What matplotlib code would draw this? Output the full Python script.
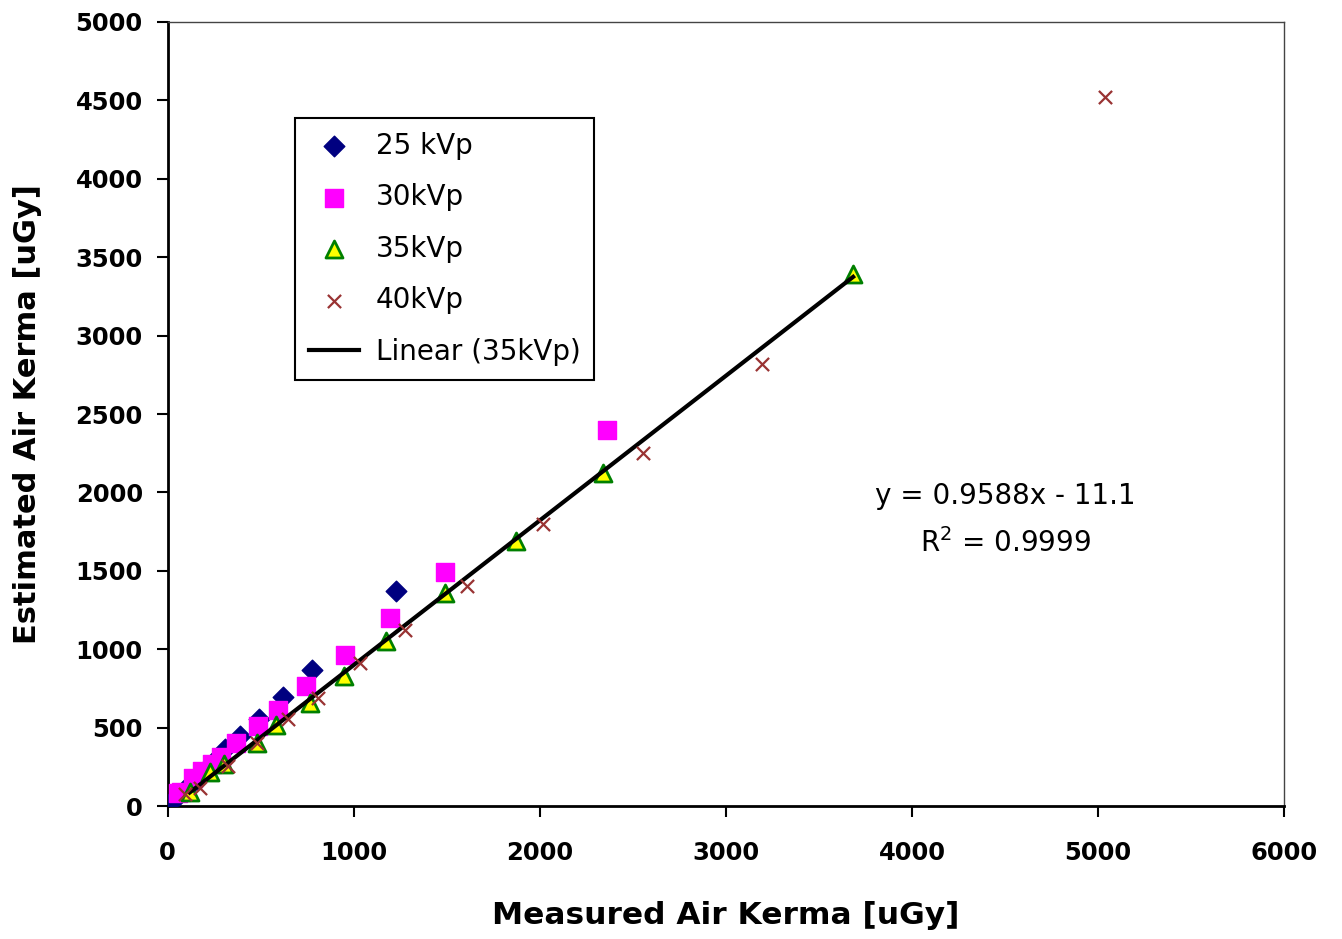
import numpy as np
import matplotlib
matplotlib.use('Agg')
import matplotlib.pyplot as plt

plt.rcParams['font.family'] = ['DejaVu Sans']

# 25 kVp
x25 = [25, 60, 95, 120, 155, 190, 244, 306, 390, 490, 622, 774, 1226]
y25 = [30, 70, 108, 135, 172, 218, 282, 362, 448, 552, 693, 868, 1373]
# 30 kVp
x30 = [55, 73, 136, 185, 236, 288, 369, 486, 592, 742, 952, 1194, 1489, 2360]
y30 = [80, 91, 180, 225, 270, 315, 400, 512, 612, 766, 964, 1200, 1494, 2401]
# 35 kVp
x35 = [118, 226, 300, 477, 584, 763, 946, 1172, 1489, 1871, 2339, 3683]
y35 = [91, 220, 270, 400, 517, 660, 830, 1055, 1360, 1692, 2126, 3391]
# 40 kVp
x40 = [95, 172, 323, 480, 645, 805, 1032, 1274, 1606, 2016, 2554, 3194, 5038]
y40 = [75, 115, 255, 400, 552, 690, 913, 1124, 1405, 1801, 2254, 2816, 4521]

eq_text = 'y = 0.9588x - 11.1\nR$^2$ = 0.9999'

fig = plt.figure(figsize=(13.42, 9.39), dpi=100)
ax = fig.add_axes([0.125, 0.1416, 0.832, 0.835])

ax.scatter(x25, y25, marker='D', s=110, color='#000080', label='25 kVp', zorder=3)
ax.scatter(x30, y30, marker='s', s=150, color='#FF00FF', label='30kVp', zorder=4)
ax.scatter(x35, y35, marker='^', s=150, facecolor='#FFFF00', edgecolor='#008000',
           linewidths=2, label='35kVp', zorder=5)
ax.scatter(x40, y40, marker='x', s=90, color='#993333', linewidths=1.6,
           label='40kVp', zorder=6)

# linear trendline for 35 kVp
p = np.polyfit(x35, y35, 1)
xl = np.array([min(x35), max(x35)])
ax.plot(xl, np.polyval(p, xl), color='black', lw=3, label='Linear (35kVp)', zorder=5.5)

ax.text(0.75, 0.365, eq_text, transform=ax.transAxes, ha='center', va='center',
        fontsize=20, linespacing=1.75)

ax.set_xlim(0, 6000)
ax.set_ylim(0, 5000)
ax.set_xticks(np.arange(0, 6001, 1000))
ax.set_yticks(np.arange(0, 5001, 500))
ax.tick_params(direction='out', length=8, width=1.5, labelsize=17.5)
ax.tick_params(axis='x', pad=17)
ax.tick_params(axis='y', pad=10)
for lab in ax.get_xticklabels() + ax.get_yticklabels():
    lab.set_fontweight('bold')
for s in ['left', 'bottom']:
    ax.spines[s].set_linewidth(2)
for s in ['top', 'right']:
    ax.spines[s].set_linewidth(1)
    ax.spines[s].set_color('#444444')

ax.set_xlabel('Measured Air Kerma [uGy]', fontsize=22.5, fontweight='bold', labelpad=26)
ax.set_ylabel('Estimated Air Kerma [uGy]', fontsize=22, fontweight='bold', labelpad=24)

leg = ax.legend(loc='upper left', bbox_to_anchor=(0.114, 0.878), borderaxespad=0,
                fontsize=20, fancybox=False, edgecolor='black', framealpha=1,
                labelspacing=0.85, handlelength=1.8, handletextpad=0.6, borderpad=0.5)
leg.get_frame().set_linewidth(1.5)

fig.savefig('out.png', dpi=100)
